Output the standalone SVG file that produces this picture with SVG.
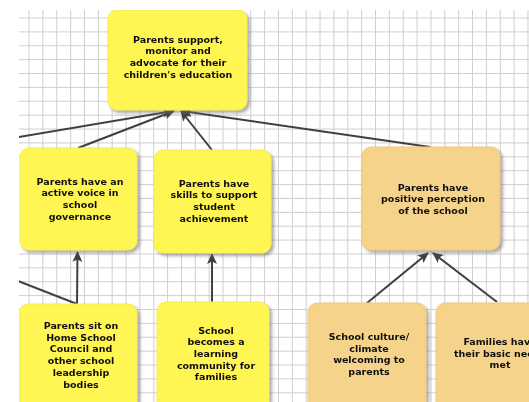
<svg xmlns="http://www.w3.org/2000/svg" width="529" height="402" viewBox="0 0 529 402">
<defs>
<style>
.grid{stroke:#cfcfcf;stroke-width:1;fill:none}
.box-y{fill:#fff552;stroke:#f7ec55;stroke-width:1}
.box-o{fill:#f6d38a;stroke:#f1cb7c;stroke-width:1}
.lbl{font-family:"DejaVu Sans",Verdana,sans-serif;font-weight:bold;font-size:9.5px;fill:#111;text-anchor:middle}
.edge{stroke:#404040;stroke-width:2;fill:none}
</style>
<clipPath id="area"><rect x="19" y="10" width="510" height="392"/></clipPath>
<filter id="shadow" x="-10%" y="-10%" width="130%" height="130%">
<feDropShadow dx="2.5" dy="2.5" stdDeviation="1.6" flood-color="#707070" flood-opacity="0.6"/>
</filter>
<marker id="arrow" markerUnits="userSpaceOnUse" markerWidth="11" markerHeight="11" viewBox="0 0 10 10" refX="9" refY="5" orient="auto">
<path d="M0,0.5 L10,5 L0,9.5 L2.2,5 z" fill="#404040"/>
</marker>
</defs>
<rect width="529" height="402" fill="#fff"/>
<g clip-path="url(#area)">
<path class="grid" d="M29,10V402M42.86,10V402M56.72,10V402M70.58,10V402M84.44,10V402M98.3,10V402M112.16,10V402M126.02,10V402M139.88,10V402M153.74,10V402M167.6,10V402M181.46,10V402M195.32,10V402M209.18,10V402M223.04,10V402M236.9,10V402M250.76,10V402M264.62,10V402M278.48,10V402M292.34,10V402M306.2,10V402M320.06,10V402M333.92,10V402M347.78,10V402M361.64,10V402M375.5,10V402M389.36,10V402M403.22,10V402M417.08,10V402M430.94,10V402M444.8,10V402M458.66,10V402M472.52,10V402M486.38,10V402M500.24,10V402M514.1,10V402M527.96,10V402M19,18H529M19,31.88H529M19,45.76H529M19,59.64H529M19,73.52H529M19,87.4H529M19,101.28H529M19,115.16H529M19,129.04H529M19,142.92H529M19,156.8H529M19,170.68H529M19,184.56H529M19,198.44H529M19,212.32H529M19,226.2H529M19,240.08H529M19,253.96H529M19,267.84H529M19,281.72H529M19,295.6H529M19,309.48H529M19,323.36H529M19,337.24H529M19,351.12H529M19,365H529M19,378.88H529M19,392.76H529"/>
<g id="connectors">
<line class="edge" x1="10" y1="138.5" x2="173" y2="111" marker-end="url(#arrow)"/>
<line class="edge" x1="78" y1="148" x2="174" y2="111" marker-end="url(#arrow)"/>
<line class="edge" x1="212" y1="150" x2="181" y2="111" marker-end="url(#arrow)"/>
<line class="edge" x1="430" y1="147" x2="182" y2="111" marker-end="url(#arrow)"/>
<line class="edge" x1="77" y1="304" x2="77.5" y2="252" marker-end="url(#arrow)"/>
<line class="edge" x1="77" y1="304" x2="5" y2="276"/>
<line class="edge" x1="212" y1="302" x2="212" y2="254" marker-end="url(#arrow)"/>
<line class="edge" x1="367" y1="303" x2="428" y2="253" marker-end="url(#arrow)"/>
<line class="edge" x1="497" y1="302" x2="433" y2="253" marker-end="url(#arrow)"/>
</g>
<g id="n1" filter="url(#shadow)">
<rect class="box-y" x="108" y="10" width="139" height="100" rx="9"/>
<text class="lbl" x="178" y="42.5">Parents support,</text>
<text class="lbl" x="178" y="54.2">monitor and</text>
<text class="lbl" x="178" y="65.9">advocate for their</text>
<text class="lbl" x="178" y="77.6">children's education</text>
</g>
<g id="n2" filter="url(#shadow)">
<rect class="box-y" x="20" y="148" width="117" height="102" rx="9"/>
<text class="lbl" x="80" y="184.5">Parents have an</text>
<text class="lbl" x="80" y="196.2">active voice in</text>
<text class="lbl" x="80" y="207.9">school</text>
<text class="lbl" x="80" y="219.6">governance</text>
</g>
<g id="n3" filter="url(#shadow)">
<rect class="box-y" x="154" y="150" width="117" height="103" rx="9"/>
<text class="lbl" x="214" y="186.5">Parents have</text>
<text class="lbl" x="214" y="198.2">skills to support</text>
<text class="lbl" x="214" y="209.9">student</text>
<text class="lbl" x="214" y="221.6">achievement</text>
</g>
<g id="n4" filter="url(#shadow)">
<rect class="box-o" x="362" y="147" width="138" height="103" rx="9"/>
<text class="lbl" x="433" y="190.5">Parents have</text>
<text class="lbl" x="433" y="202.2">positive perception</text>
<text class="lbl" x="433" y="213.9">of the school</text>
</g>
<g id="n5" filter="url(#shadow)">
<rect class="box-y" x="19" y="304" width="118" height="115" rx="9"/>
<text class="lbl" x="81" y="329">Parents sit on</text>
<text class="lbl" x="81" y="340.7">Home School</text>
<text class="lbl" x="81" y="352.4">Council and</text>
<text class="lbl" x="81" y="364.1">other school</text>
<text class="lbl" x="81" y="375.8">leadership</text>
<text class="lbl" x="81" y="387.5">bodies</text>
</g>
<g id="n6" filter="url(#shadow)">
<rect class="box-y" x="157" y="302" width="112" height="115" rx="9"/>
<text class="lbl" x="216" y="333.5">School</text>
<text class="lbl" x="216" y="345.2">becomes a</text>
<text class="lbl" x="216" y="356.9">learning</text>
<text class="lbl" x="216" y="368.6">community for</text>
<text class="lbl" x="216" y="380.3">families</text>
</g>
<g id="n7" filter="url(#shadow)">
<rect class="box-o" x="308" y="303" width="118" height="115" rx="9"/>
<text class="lbl" x="369" y="340">School culture/</text>
<text class="lbl" x="369" y="351.7">climate</text>
<text class="lbl" x="369" y="363.4">welcoming to</text>
<text class="lbl" x="369" y="375.1">parents</text>
</g>
<g id="n8" filter="url(#shadow)">
<rect class="box-o" x="436" y="303" width="128" height="115" rx="9"/>
<text class="lbl" x="500" y="345">Families have</text>
<text class="lbl" x="500" y="356.7">their basic needs</text>
<text class="lbl" x="500" y="368.4">met</text>
</g>
</g>
</svg>
